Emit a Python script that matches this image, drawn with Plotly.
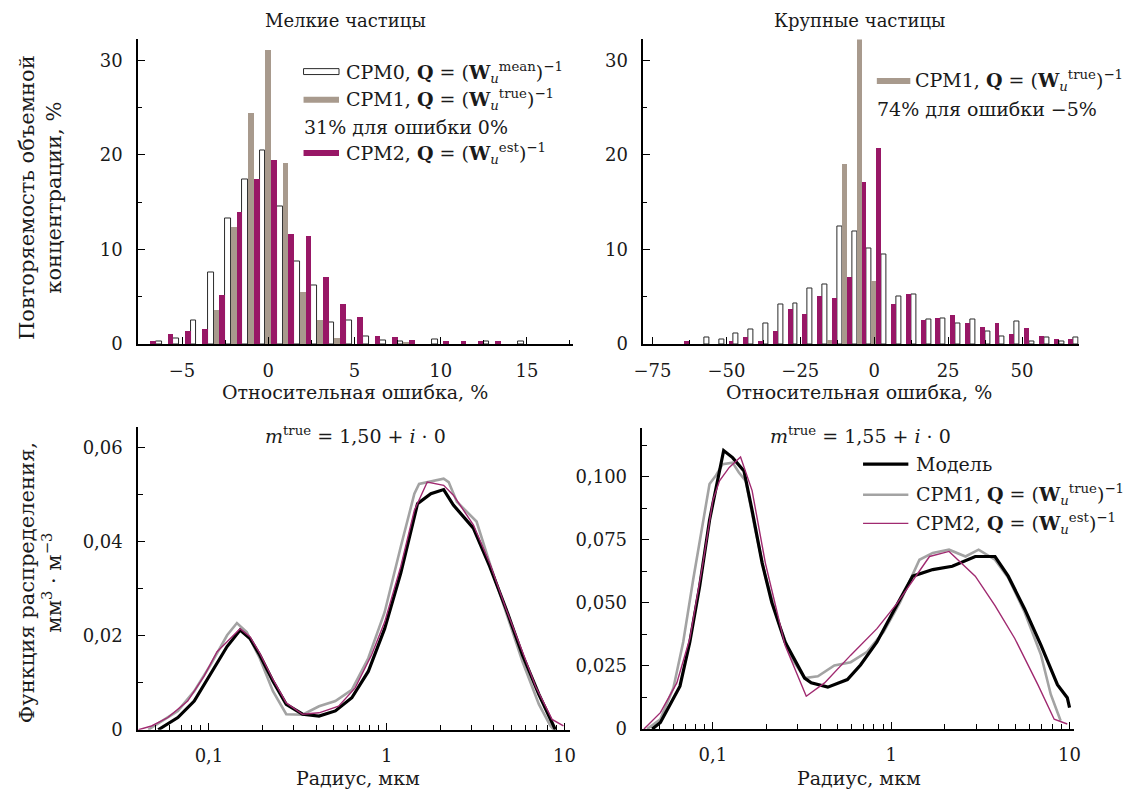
import plotly.graph_objects as go

# ---------------- data ----------------
# Top-left: small particles, relative error bins (%)
err_small = [-7, -6, -5, -4, -3, -2, -1, 0, 1, 2, 3, 4, 5, 6, 7, 8, 9, 10, 11, 12, 13, 14, 15]
cpm0_small = [None, 0.25, 0.6, 2.5, 7.6, 13.3, 17.4, 20.5, 14.6, 8.7, 6.2, 2.3, 2.5, 0.8, 0.4, 0.25,
              None, 0.5, None, None, 0.25, None, 0.3]
cpm1_small = [None, None, None, None, 3.6, 12.3, 24.4, 31.0, 19.1, 5.5, 2.5, 0.6, None, None, None, 0.15,
              None, None, None, None, None, None, None]
cpm2_small = [0.25, 1.0, 1.3, 1.5, 5.1, 13.9, 17.4, 19.4, 11.6, 11.4, 7.0, 4.2, 2.8, 0.8, 0.65, 0.4,
              None, 0.25, 0.25, 0.25, 0.25, None, None]

# Top-right: large particles, relative error bins (%)
err_large = [-65, -60, -55, -50, -45, -40, -35, -30, -25, -20, -15, -10, -5, 0, 5, 10, 15, 20, 25, 30,
             35, 40, 45, 50, 55, 60, 65, 70]
cpm0_large = [None, None, 0.7, 0.5, 1.1, 1.6, 2.2, 4.15, 4.3, 5.85, 6.35, 12.4, 11.9, 10.1, 9.5, 5.0,
              5.2, 2.6, 2.75, 2.15, 2.6, 1.3, 0.85, 2.35, 0.3, 0.65, 0.3, 0.65]
cpm1_large = [None, None, None, None, None, None, None, None, None, None, 0.4, 19.0, 74.0, 6.6, None, None,
              None, None, None, None, None, None, None, None, None, None, None, None]
cpm2_large = [0.3, None, None, 0.3, 0.75, 0.3, 1.35, 3.7, 3.1, 5.0, 4.85, 7.0, 17.1, 20.7, 4.15, 5.2,
              2.45, 2.75, 3.0, 2.15, 1.75, 2.15, 1.05, 1.7, 0.85, 0.45, 0.45, None]

# Bottom-left: m = 1.50, size distributions
r_model_a = [0.0518, 0.0668, 0.0826, 0.102, 0.1264, 0.1497, 0.170, 0.193, 0.229, 0.272, 0.336, 0.416,
             0.514, 0.636, 0.787, 0.973, 1.20, 1.49, 1.77, 2.09, 2.37, 3.07, 3.79, 4.69, 5.80, 7.18, 8.51, 8.88]
v_model_a = [0.0, 0.0026, 0.0061, 0.0117, 0.0177, 0.0212, 0.0194, 0.0159, 0.0103, 0.0054, 0.0033, 0.0029,
             0.0040, 0.0068, 0.0124, 0.0215, 0.0334, 0.0481, 0.0502, 0.0511, 0.0478, 0.0429, 0.0348, 0.0257,
             0.0159, 0.0075, 0.0012, 0.0]
r_cpm1_a = [0.0455, 0.0668, 0.0826, 0.102, 0.1264, 0.1436, 0.163, 0.193, 0.229, 0.272, 0.336, 0.416,
            0.514, 0.636, 0.787, 0.973, 1.20, 1.43, 1.52, 1.69, 2.09, 2.23, 2.48, 3.20, 3.79, 4.69, 5.80,
            7.18, 8.34, 8.7]
v_cpm1_a = [0.0, 0.0040, 0.0082, 0.0138, 0.0201, 0.0227, 0.0208, 0.0152, 0.0082, 0.0033, 0.0032, 0.0050,
            0.0061, 0.0085, 0.0152, 0.0250, 0.0390, 0.0502, 0.0523, 0.0527, 0.0534, 0.0527, 0.0485, 0.0443,
            0.0355, 0.0250, 0.0145, 0.0054, 0.0008, 0.0]
r_cpm2_a = [0.0401, 0.0475, 0.0587, 0.0759, 0.0938, 0.111, 0.1264, 0.1497, 0.170, 0.193, 0.229, 0.272,
            0.336, 0.416, 0.536, 0.664, 0.821, 0.973, 1.20, 1.43, 1.69, 2.09, 2.37, 3.07, 3.79, 4.69, 5.80,
            6.88, 8.51, 9.86]
v_cpm2_a = [0.0, 0.0008, 0.0026, 0.0061, 0.0114, 0.0166, 0.0187, 0.0215, 0.0198, 0.0163, 0.0107, 0.0057,
            0.0033, 0.0036, 0.0050, 0.0089, 0.0159, 0.0229, 0.0348, 0.0467, 0.0527, 0.0520, 0.0499, 0.0436,
            0.0355, 0.0257, 0.0166, 0.0092, 0.0022, 0.0008]

# Bottom-right: m = 1.55, size distributions
r_model_b = [0.0457, 0.0508, 0.0577, 0.0654, 0.0743, 0.0844, 0.0958, 0.1066, 0.115, 0.129, 0.1495, 0.166,
             0.189, 0.214, 0.254, 0.327, 0.356, 0.441, 0.568, 0.673, 0.832, 1.07, 1.32, 1.71, 2.20, 2.96,
             3.82, 4.53, 5.60, 6.92, 8.55, 9.71, 10.0]
v_model_b = [0.0, 0.0026, 0.0098, 0.0170, 0.0345, 0.0567, 0.0828, 0.0997, 0.1104, 0.1076, 0.1023, 0.0867,
             0.0658, 0.0502, 0.0345, 0.0202, 0.0183, 0.0166, 0.0196, 0.0254, 0.0345, 0.0489, 0.0606, 0.0632,
             0.0645, 0.0684, 0.0684, 0.0606, 0.0476, 0.0332, 0.0176, 0.0124, 0.0085]
r_cpm1_b = [0.0428, 0.0508, 0.0601, 0.0682, 0.0776, 0.088, 0.0958, 0.1043, 0.1135, 0.129, 0.140, 0.1528,
            0.173, 0.197, 0.233, 0.277, 0.327, 0.388, 0.480, 0.593, 0.733, 0.906, 1.12, 1.44, 1.71, 2.11,
            2.61, 3.09, 3.82, 4.53, 5.60, 6.92, 7.85, 8.91]
v_cpm1_b = [0.0, 0.0039, 0.0163, 0.0345, 0.0593, 0.0828, 0.0971, 0.1006, 0.1050, 0.1056, 0.1017, 0.0984,
            0.0789, 0.0606, 0.0424, 0.0280, 0.0202, 0.0209, 0.0252, 0.0265, 0.0306, 0.0385, 0.0502, 0.0671,
            0.0698, 0.0711, 0.0684, 0.0711, 0.0671, 0.0600, 0.0463, 0.0293, 0.0137, 0.0033]
r_cpm2_b = [0.0411, 0.0508, 0.0628, 0.0743, 0.088, 0.100, 0.109, 0.1236, 0.143, 0.166, 0.197, 0.254,
            0.334, 0.423, 0.593, 0.832, 1.07, 1.38, 1.64, 2.11, 2.96, 3.82, 4.93, 6.64, 8.2, 9.71]
v_cpm2_b = [0.0, 0.0065, 0.0183, 0.0359, 0.0658, 0.0906, 0.0984, 0.1037, 0.1078, 0.0945, 0.0658, 0.0332,
            0.0130, 0.0183, 0.0293, 0.0398, 0.0495, 0.0606, 0.0684, 0.0704, 0.0606, 0.0489, 0.0359, 0.0176,
            0.0039, 0.0020]

# tick labels
xt_small_vals = [-5, 0, 5, 10, 15]
xt_small_text = ["\u22125", "0", "5", "10", "15"]
xt_large_vals = [-75, -50, -25, 0, 25, 50]
xt_large_text = ["\u221275", "\u221250", "\u221225", "0", "25", "50"]
yt_hist_vals = [0, 10, 20, 30]
yt_hist_text = ["0", "10", "20", "30"]
yt_a_vals = [0, 0.02, 0.04, 0.06]
yt_a_text = ["0", "0,02", "0,04", "0,06"]
yt_b_vals = [0, 0.025, 0.05, 0.075, 0.1]
yt_b_text = ["0", "0,025", "0,050", "0,075", "0,100"]
xt_log_vals = [0.1, 1, 10]
xt_log_text = ["0,1", "1", "10"]
xt_log_minor = [0.05, 0.06, 0.07, 0.08, 0.09, 0.2, 0.3, 0.4, 0.5, 0.6, 0.7, 0.8, 0.9,
                2, 3, 4, 5, 6, 7, 8, 9]

# ---------------- style ----------------
FONT = "DejaVu Serif"
W, H = 1136, 798
TXT = "#1a1a1a"
WHITE_LINE = "#2a2a2a"
BROWN = "#a89a8d"
MAGENTA = "#981766"
GRAY = "#a3a3a3"
MAG_LINE = "#a02a70"
FS_TICK = 18
FS_TITLE = 18
FS_YTITLE = 21
FS_XTITLE = 19
FS_LEG = 19


def fx(p):
    return p / W


def fy(p):
    return 1 - p / H


fig = go.Figure()

# histogram traces
for xa, ya, xs, s0, s1, s2 in [("x", "y", err_small, cpm0_small, cpm1_small, cpm2_small),
                               ("x2", "y2", err_large, cpm0_large, cpm1_large, cpm2_large)]:
    fig.add_trace(go.Bar(x=xs, y=s0, xaxis=xa, yaxis=ya, showlegend=False,
                         marker=dict(color="white", line=dict(color=WHITE_LINE, width=1))))
    fig.add_trace(go.Bar(x=xs, y=s1, xaxis=xa, yaxis=ya, showlegend=False,
                         marker=dict(color=BROWN, line=dict(width=0))))
    fig.add_trace(go.Bar(x=xs, y=s2, xaxis=xa, yaxis=ya, showlegend=False,
                         marker=dict(color=MAGENTA, line=dict(width=0))))

# distribution traces
for xa, ya, rm, vm, r1, v1, r2, v2 in [("x3", "y3", r_model_a, v_model_a, r_cpm1_a, v_cpm1_a, r_cpm2_a, v_cpm2_a),
                                       ("x4", "y4", r_model_b, v_model_b, r_cpm1_b, v_cpm1_b, r_cpm2_b, v_cpm2_b)]:
    fig.add_trace(go.Scatter(x=r1, y=v1, xaxis=xa, yaxis=ya, mode="lines", showlegend=False,
                             line=dict(color=GRAY, width=2.6)))
    fig.add_trace(go.Scatter(x=rm, y=vm, xaxis=xa, yaxis=ya, mode="lines", showlegend=False,
                             line=dict(color="black", width=3.2)))
    fig.add_trace(go.Scatter(x=r2, y=v2, xaxis=xa, yaxis=ya, mode="lines", showlegend=False,
                             line=dict(color=MAG_LINE, width=1.4)))

tickfont = dict(family=FONT, size=FS_TICK, color=TXT)
common = dict(showline=True, linecolor="black", linewidth=1.5, ticks="inside", ticklen=7,
              tickwidth=1.3, tickcolor="black", showgrid=False, zeroline=False, tickfont=tickfont)

fig.update_layout(
    width=W, height=H, margin=dict(l=0, r=0, t=0, b=0),
    paper_bgcolor="white", plot_bgcolor="white",
    barmode="group", bargap=0, bargroupgap=0,
    font=dict(family=FONT, size=FS_TICK, color=TXT),
    xaxis=dict(domain=[fx(130), fx(572)], anchor="y", range=[-7.55, 17.7],
               tickmode="array", tickvals=xt_small_vals, ticktext=xt_small_text,
               minor=dict(tickmode="linear", tick0=0, dtick=2.5, ticks="inside", ticklen=4,
                          tickcolor="black", tickwidth=1),
               ticklabelstandoff=10, **common),
    yaxis=dict(domain=[fy(348.5), fy(40)], anchor="x", range=[0, 32.2],
               tickmode="array", tickvals=yt_hist_vals, ticktext=yt_hist_text,
               minor=dict(tickmode="linear", tick0=0, dtick=5, ticks="inside", ticklen=4,
                          tickcolor="black", tickwidth=1),
               ticklabelstandoff=10, **common),
    xaxis2=dict(domain=[fx(643), fx(1085)], anchor="y2", range=[-78.1, 69.2],
                tickmode="array", tickvals=xt_large_vals, ticktext=xt_large_text,
                minor=dict(tickmode="linear", tick0=0, dtick=12.5, ticks="inside", ticklen=4,
                           tickcolor="black", tickwidth=1),
                ticklabelstandoff=10, **common),
    yaxis2=dict(domain=[fy(348.5), fy(40)], anchor="x2", range=[0, 32.2],
                tickmode="array", tickvals=yt_hist_vals, ticktext=yt_hist_text,
                minor=dict(tickmode="linear", tick0=0, dtick=5, ticks="inside", ticklen=4,
                           tickcolor="black", tickwidth=1),
                ticklabelstandoff=10, **common),
    xaxis3=dict(domain=[fx(130), fx(568)], anchor="y3", type="log", range=[-1.399, 1.028],
                tickmode="array", tickvals=xt_log_vals, ticktext=xt_log_text,
                minor=dict(tickmode="array", tickvals=xt_log_minor, ticks="inside", ticklen=5,
                           tickcolor="black", tickwidth=1),
                ticklabelstandoff=9, **common),
    yaxis3=dict(domain=[fy(739), fy(432)], anchor="x3", range=[0, 0.0645],
                tickmode="array", tickvals=yt_a_vals, ticktext=yt_a_text,
                minor=dict(tickmode="linear", tick0=0, dtick=0.01, ticks="inside", ticklen=5,
                           tickcolor="black", tickwidth=1),
                ticklabelstandoff=10, **common),
    xaxis4=dict(domain=[fx(642), fx(1080)], anchor="y4", type="log", range=[-1.395, 1.024],
                tickmode="array", tickvals=xt_log_vals, ticktext=xt_log_text,
                minor=dict(tickmode="array", tickvals=xt_log_minor, ticks="inside", ticklen=5,
                           tickcolor="black", tickwidth=1),
                ticklabelstandoff=9, **common),
    yaxis4=dict(domain=[fy(738.3), fy(433)], anchor="x4", range=[0, 0.1195],
                tickmode="array", tickvals=yt_b_vals, ticktext=yt_b_text,
                minor=dict(tickmode="linear", tick0=0, dtick=0.0125, ticks="inside", ticklen=5,
                           tickcolor="black", tickwidth=1),
                ticklabelstandoff=10, **common),
)

annots = []
shapes = []


def text(x, y, s, size=FS_TICK, xanchor="center", angle=0, yanchor="middle"):
    annots.append(dict(x=fx(x), y=fy(y), xref="paper", yref="paper", text=s, showarrow=False,
                       xanchor=xanchor, yanchor=yanchor, textangle=angle,
                       font=dict(family=FONT, size=size, color=TXT)))


def swatch(x0, x1, yc, color, h=6, outline=None):
    shapes.append(dict(type="rect", xref="paper", yref="paper", x0=fx(x0), x1=fx(x1),
                       y0=fy(yc + h / 2), y1=fy(yc - h / 2), fillcolor=color,
                       line=dict(color=outline if outline else color, width=1 if outline else 0)))


def lswatch(x0, x1, yc, color, width):
    shapes.append(dict(type="line", xref="paper", yref="paper", x0=fx(x0), x1=fx(x1),
                       y0=fy(yc), y1=fy(yc), line=dict(color=color, width=width)))


# titles
text(341, 21, "Мелкие частицы", size=FS_TITLE)
text(862, 21, "Крупные частицы", size=FS_TITLE)
text(350, 397, "Относительная ошибка, %", size=FS_XTITLE)
text(862, 397, "Относительная ошибка, %", size=FS_XTITLE)
text(353, 775, "Радиус, мкм", size=FS_XTITLE, yanchor="top")
text(862, 775, "Радиус, мкм", size=FS_XTITLE, yanchor="top")
text(31, 200, "Повторяемость объемной<br>концентрации, %", size=FS_YTITLE, angle=-90)
text(31, 590, "Функция распределения,<br>мм<sup>3</sup> · м<sup>\u22123</sup>", size=FS_YTITLE, angle=-90)
text(351, 441, "<i>m</i><sup>true</sup> = 1,50 + <i>i</i> · 0", size=FS_LEG)
text(863, 441, "<i>m</i><sup>true</sup> = 1,55 + <i>i</i> · 0", size=FS_LEG)

# top-left legend
swatch(298, 334, 72.5, "white", outline=WHITE_LINE)
text(339, 73, "CPM0, <b>Q</b> = (<b>W</b><sub><i>u</i></sub><sup>mean</sup>)<sup>\u22121</sup>", size=FS_LEG, xanchor="left")
swatch(298, 334, 101, BROWN)
text(339, 101, "CPM1, <b>Q</b> = (<b>W</b><sub><i>u</i></sub><sup>true</sup>)<sup>\u22121</sup>", size=FS_LEG, xanchor="left")
text(296, 128.5, "31% для ошибки 0%", size=FS_LEG, xanchor="left")
swatch(298, 334, 155, MAGENTA)
text(339, 155, "CPM2, <b>Q</b> = (<b>W</b><sub><i>u</i></sub><sup>est</sup>)<sup>\u22121</sup>", size=FS_LEG, xanchor="left")

# top-right legend
swatch(880, 914, 82, BROWN)
text(917, 82, "CPM1, <b>Q</b> = (<b>W</b><sub><i>u</i></sub><sup>true</sup>)<sup>\u22121</sup>", size=FS_LEG, xanchor="left")
text(878, 110, "74% для ошибки \u22125%", size=FS_LEG, xanchor="left")

# bottom-right legend
lswatch(866, 912, 470, "black", 3.2)
text(918, 470, "Модель", size=FS_LEG, xanchor="left")
lswatch(866, 912, 501, GRAY, 2.6)
text(918, 501, "CPM1, <b>Q</b> = (<b>W</b><sub><i>u</i></sub><sup>true</sup>)<sup>\u22121</sup>", size=FS_LEG, xanchor="left")
lswatch(866, 912, 530, MAG_LINE, 1.4)
text(918, 530, "CPM2, <b>Q</b> = (<b>W</b><sub><i>u</i></sub><sup>est</sup>)<sup>\u22121</sup>", size=FS_LEG, xanchor="left")

fig.update_layout(annotations=annots, shapes=shapes)

fig.write_html("out.html")
